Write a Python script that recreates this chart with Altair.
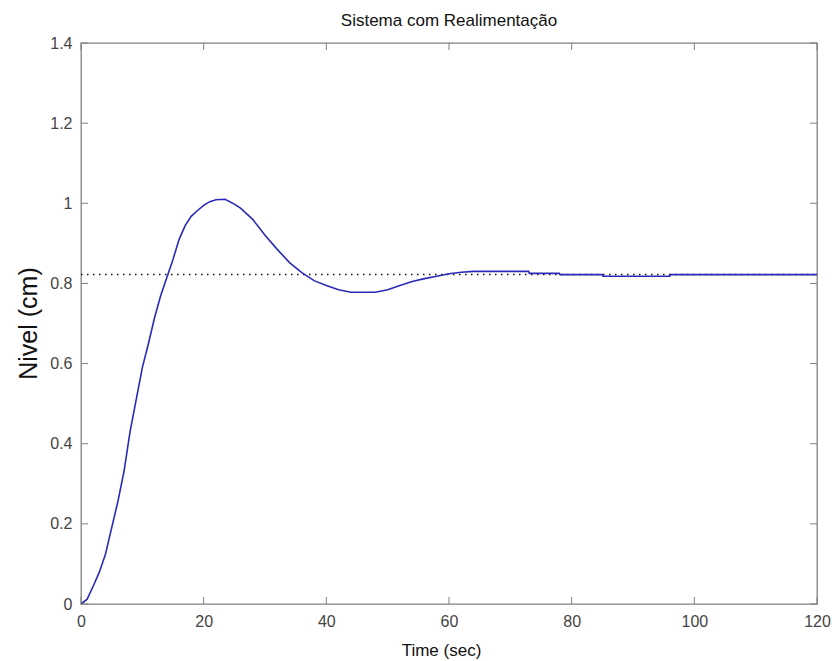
import altair as alt
import pandas as pd

# --- data ---
time_s = [0, 1, 2, 3, 4, 5, 6, 7, 8, 9, 10, 11, 12, 13, 14, 15, 16, 17, 18, 19,
          20, 21, 22, 23.5, 25, 26, 28, 30, 32, 34, 36, 38, 40, 42, 44, 48, 50,
          52, 54, 56, 58, 60, 62, 64, 73, 73.1, 78, 78.1, 85, 85.1, 96, 96.1, 120]
level_cm = [0, 0.012, 0.045, 0.08, 0.125, 0.19, 0.255, 0.33, 0.43, 0.51, 0.59,
            0.65, 0.715, 0.77, 0.815, 0.86, 0.91, 0.945, 0.968, 0.982, 0.995,
            1.004, 1.009, 1.01, 0.998, 0.988, 0.96, 0.92, 0.885, 0.852, 0.827,
            0.807, 0.795, 0.784, 0.778, 0.778, 0.784, 0.795, 0.805, 0.812, 0.818,
            0.824, 0.828, 0.83, 0.83, 0.825, 0.825, 0.822, 0.822, 0.818, 0.818,
            0.822, 0.822]
final_value = [0.8225]
x_ticks = [0, 20, 40, 60, 80, 100, 120]
y_ticks = [0, 0.2, 0.4, 0.6, 0.8, 1.0, 1.2, 1.4]

W, H = 736, 561
TICK = 7
GREY = "#808080"
FONT = "Liberation Sans"

df = pd.DataFrame({"t": time_s, "y": level_cm})
df_final = pd.DataFrame({"v": final_value})
df_xt = pd.DataFrame({"t": x_ticks})
df_yt = pd.DataFrame({"v": y_ticks})

xs = alt.Scale(domain=[0, 120], nice=False, zero=False)
ys = alt.Scale(domain=[0, 1.4], nice=False, zero=False)

x_axis = alt.Axis(values=x_ticks, ticks=False, domain=False, grid=False,
                  labelPadding=9, labelFontSize=16, labelColor="#444444",
                  labelFont=FONT, title="Time (sec)", titleFont=FONT,
                  titleFontSize=17, titleFontWeight="normal", titleColor="#111111",
                  titleX=360, titleY=51, titleBaseline="alphabetic",
                  titleAlign="center", labelFlush=False)
y_axis = alt.Axis(values=y_ticks, ticks=False, domain=False, grid=False,
                  labelPadding=9, labelFontSize=16, labelColor="#444444",
                  labelFont=FONT, title="Nivel (cm)", titleFont=FONT,
                  titleFontSize=25, titleFontWeight="normal", titleColor="#111111",
                  titleX=-53, titleY=280, titleAngle=270, titleBaseline="middle",
                  titleAlign="center", labelFlush=False,
                  labelExpr="datum.value == 1 ? '1' : format(datum.value, '.1f') == '0.0' ? '0' : format(datum.value, '.1f')")

line = alt.Chart(df).mark_line(color="#2a2ab8", strokeWidth=1.6).encode(
    x=alt.X("t:Q", scale=xs, axis=x_axis),
    y=alt.Y("y:Q", scale=ys, axis=y_axis),
)

dotted = alt.Chart(df_final).mark_rule(color="#111111", strokeDash=[1.5, 4.5],
                                       strokeWidth=1.5).encode(
    y=alt.Y("v:Q", scale=ys),
    x=alt.value(0), x2=alt.value(W),
)

tick_style = dict(color=GREY, strokeWidth=1)
bottom = alt.Chart(df_xt).mark_rule(**tick_style).encode(
    x=alt.X("t:Q", scale=xs), y=alt.value(H), y2=alt.value(H - TICK))
top = alt.Chart(df_xt).mark_rule(**tick_style).encode(
    x=alt.X("t:Q", scale=xs), y=alt.value(0), y2=alt.value(TICK))
left = alt.Chart(df_yt).mark_rule(**tick_style).encode(
    y=alt.Y("v:Q", scale=ys), x=alt.value(0), x2=alt.value(TICK))
right = alt.Chart(df_yt).mark_rule(**tick_style).encode(
    y=alt.Y("v:Q", scale=ys), x=alt.value(W), x2=alt.value(W - TICK))

chart = alt.layer(dotted, line, bottom, top, left, right).properties(
    width=W, height=H,
    title=alt.TitleParams("Sistema com Realimentação", font=FONT, fontSize=17,
                          fontWeight="normal", color="#111111", anchor="middle",
                          baseline="alphabetic", offset=17, frame="group", dy=25),
    autosize=alt.AutoSizeParams(type="none"),
    padding={"left": 81, "top": 43, "right": 15, "bottom": 57},
    background="white",
).configure_view(stroke=GREY, strokeWidth=1.3)

chart.save("out.html", embed_options={"renderer": "svg", "actions": False})
